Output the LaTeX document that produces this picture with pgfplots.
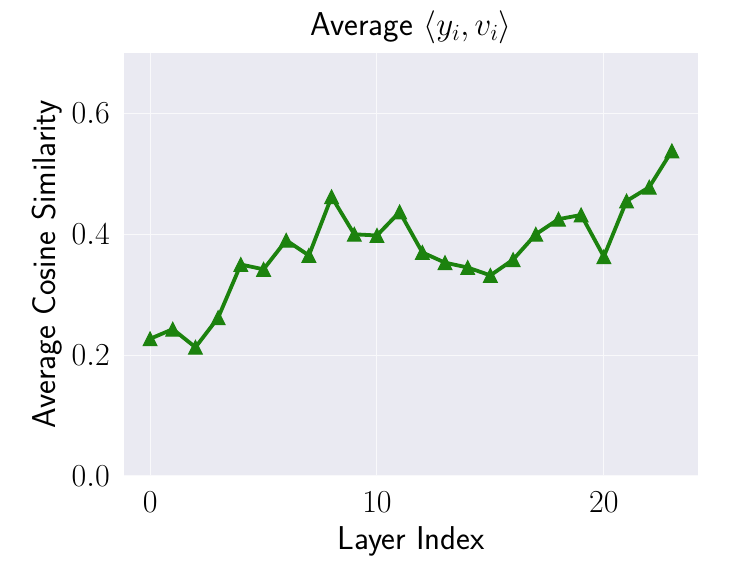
\RequirePackage{fix-cm}
\documentclass[border=0pt]{standalone}
\usepackage{pgfplots}
\pgfplotsset{compat=1.18}
\definecolor{bgc}{HTML}{EAEAF2}
\definecolor{lc}{RGB}{28,130,14}
\begin{document}
\begin{tikzpicture}
\useasboundingbox (-124pt,-91pt) rectangle (629pt,476pt);
\begin{axis}[
  scale only axis,
  width=574pt, height=423pt,
  xmin=-1.15, xmax=24.15, ymin=0, ymax=0.7,
  axis background/.style={fill=bgc},
  axis line style={draw=none},
  tick style={draw=none},
  grid=major,
  grid style={white!70!bgc, line width=1pt},
  xtick={0,10,20},
  ytick={0,0.2,0.4,0.6},
  yticklabel={\pgfmathprintnumber[fixed,fixed zerofill,precision=1]{\tick}},
  tick label style={font=\fontsize{32}{38}\selectfont},
  yticklabel style={anchor=east, inner sep=0pt, xshift=-14pt},
  xticklabel style={anchor=north, inner sep=0pt, yshift=-16pt},
  title={\sffamily Average $\langle y_i, v_i\rangle$},
  title style={font=\fontsize{33}{39}\selectfont, at={(axis description cs:0.5,1)}, anchor=base, yshift=11pt, inner sep=0pt},
  xlabel={\sffamily Layer Index},
  xlabel style={font=\fontsize{33}{39}\selectfont, at={(axis description cs:0.5,0)}, anchor=base, yshift=-74pt, inner sep=0pt},
  ylabel={\sffamily Average Cosine Similarity},
  ylabel style={font=\fontsize{33}{39}\selectfont, at={(axis description cs:0,0.5)}, anchor=base, yshift=68pt, inner sep=0pt},
]
\addplot[color=lc, line width=3.8pt, mark=triangle*, mark size=8pt, mark options={solid, fill=lc, line width=1pt, yshift=-2.3pt, yscale=1.155}] table {
x y
0 0.227
1 0.243
2 0.213
3 0.262
4 0.350
5 0.342
6 0.390
7 0.365
8 0.462
9 0.400
10 0.398
11 0.437
12 0.370
13 0.353
14 0.345
15 0.332
16 0.358
17 0.400
18 0.425
19 0.432
20 0.363
21 0.455
22 0.478
23 0.538
};
\end{axis}
\end{tikzpicture}
\end{document}
